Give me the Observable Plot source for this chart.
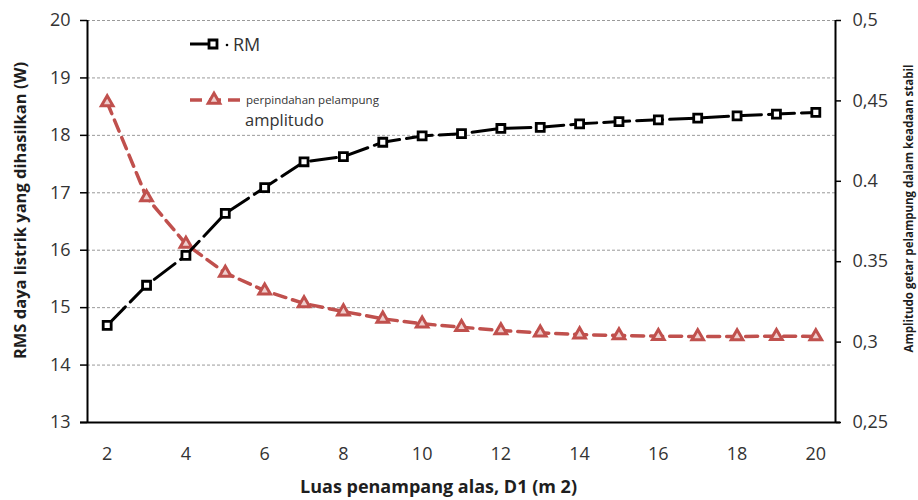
<!DOCTYPE html>
<html><head><meta charset="utf-8">
<script src="https://cdn.jsdelivr.net/npm/d3@7"></script>
<script src="https://cdn.jsdelivr.net/npm/@observablehq/plot@0.6"></script>
<style>
body{margin:0;background:#fff;}
#wrap{position:relative;width:918px;height:500px;font-family:"Open Sans",sans-serif;}
#legend{position:absolute;left:0;top:0;pointer-events:none;}
</style>
</head><body><div id="wrap"></div>
<script>
// ---- data ----
const X = [2,3,4,5,6,7,8,9,10,11,12,13,14,15,16,17,18,19,20];
const RM = [14.69,15.39,15.91,16.64,17.09,17.54,17.63,17.88,17.99,18.03,18.12,18.14,18.20,18.24,18.27,18.30,18.34,18.37,18.40];
const AMP = [0.449,0.390,0.361,0.343,0.332,0.324,0.319,0.3145,0.3114,0.3093,0.3072,0.3058,0.3047,0.3041,0.3037,0.3035,0.3035,0.3037,0.3035];
const xTicks = [2,4,6,8,10,12,14,16,18,20];
const leftTicks = [13,14,15,16,17,18,19,20];
const rightTicks = [0.25,0.3,0.35,0.4,0.45,0.5];
const rightTickLabels = ["0,25","0,3","0.35","0.4","0,45","0,5"];
const leftDomain = [13,20];
const rightDomain = [0.25,0.5];
const seriesNames = ["RM","perpindahan pelampung","amplitudo"];
const titles = {
  y: "RMS daya listrik yang dihasilkan (W)",
  y2: "Amplitudo getar pelampung dalam keadaan stabil",
  x: "Luas penampang alas, D1 (m 2)"
};
const RED = "#c0504d";
const RED_FILL = "#efcfce";
const TXT = "#333";

// map right-axis values onto the left scale
const toLeft = v => leftDomain[0] + (v - rightDomain[0]) / (rightDomain[1]-rightDomain[0]) * (leftDomain[1]-leftDomain[0]);
const rmData = X.map((x,i)=>({x, y:RM[i]}));
const ampData = X.map((x,i)=>({x, y:toLeft(AMP[i]), v:AMP[i]}));
const rightLabelFor = d => {
  const i = rightTicks.findIndex(v => Math.abs(toLeft(v)-d) < 1e-6);
  return i >= 0 ? rightTickLabels[i] : "";
};

const chart = Plot.plot({
  width: 918, height: 500,
  marginLeft: 87, marginRight: 83, marginTop: 20, marginBottom: 78,
  x: {domain: [1.5, 20.5]},
  y: {domain: leftDomain},
  style: {fontFamily: '"Open Sans", sans-serif', color: TXT, background: "#fff"},
  marks: [
    Plot.gridY(leftTicks.slice(1), {stroke: "#9a9a9a", strokeOpacity: 1, strokeWidth: 1, strokeDasharray: "3,2"}),
    Plot.axisY(leftTicks, {anchor: "left", tickSize: 7, tickPadding: 10, fontSize: 18, label: null, tickFormat: d => String(d), stroke: "#000", strokeWidth: 1.5, fill: TXT}),
    Plot.axisY(rightTicks.map(toLeft), {anchor: "right", tickSize: 5, tickPadding: 12, fontSize: 18, label: null, tickFormat: rightLabelFor, stroke: "#000", strokeWidth: 1.5, fill: TXT}),
    Plot.axisX(xTicks, {anchor: "bottom", tickSize: 0, tickPadding: 25, fontSize: 18, label: null, tickFormat: d => String(d), fill: TXT}),
    Plot.ruleX([1.5], {stroke: "#000", strokeWidth: 2}),
    Plot.ruleX([20.5], {stroke: "#000", strokeWidth: 2}),
    Plot.ruleY([13], {stroke: "#000", strokeWidth: 2, insetLeft: -7, insetRight: -5}),
    // red series
    Plot.line(ampData, {x: "x", y: "y", stroke: RED, strokeWidth: 3.5, strokeDasharray: "12,7"}),
    Plot.dot(ampData, {x: "x", y: "y", symbol: "triangle", r: 4.3, fill: RED_FILL, stroke: RED, strokeWidth: 3}),
    // black series
    Plot.line(rmData, {x: "x", y: "y", stroke: "#000", strokeWidth: 3, strokeDasharray: "26,7"}),
    Plot.dot(rmData, {x: "x", y: "y", symbol: "square", r: 4.5, fill: "#fff", stroke: "#000", strokeWidth: 2.8}),
    // axis titles
    Plot.text([titles.y], {frameAnchor: "left", textAnchor: "middle", lineAnchor: "middle", rotate: -90, dx: -67, dy: -11, fontSize: 16.5, fontWeight: "bold", fill: "#1e1e1e"}),
    Plot.text([titles.y2], {frameAnchor: "right", textAnchor: "middle", lineAnchor: "middle", rotate: -90, dx: 74, dy: -13, fontSize: 11.5, fontWeight: "bold", fill: "#1e1e1e"}),
    Plot.text([titles.x], {frameAnchor: "bottom", textAnchor: "middle", lineAnchor: "middle", dy: 65, dx: -23, fontSize: 18, fontWeight: "bold", fill: "#1e1e1e"})
  ]
});
document.getElementById("wrap").appendChild(chart);

// ---- legend overlay ----
const lg = d3.select("#wrap").append("svg").attr("id","legend").attr("width",918).attr("height",500)
  .style("font-family",'"Open Sans", sans-serif');
// RM item
lg.append("line").attr("x1",190).attr("x2",214).attr("y1",44).attr("y2",44).attr("stroke","#000").attr("stroke-width",3);
lg.append("path").attr("d",d3.symbol(d3.symbolSquare, Math.PI*4.5*4.5)()).attr("transform","translate(213,44)")
  .attr("fill","#fff").attr("stroke","#000").attr("stroke-width",2.8);
lg.append("circle").attr("cx",227).attr("cy",45).attr("r",1.3).attr("fill","#000");
lg.append("text").attr("x",233).attr("y",51).attr("font-size",18).attr("fill",TXT).text(seriesNames[0]);
// red item
lg.append("line").attr("x1",190).attr("x2",240).attr("y1",100).attr("y2",100).attr("stroke",RED).attr("stroke-width",3.5).attr("stroke-dasharray","12,7");
lg.append("path").attr("d",d3.symbol(d3.symbolTriangle, Math.PI*4.3*4.3)()).attr("transform","translate(214,100)")
  .attr("fill",RED_FILL).attr("stroke",RED).attr("stroke-width",3);
lg.append("text").attr("x",246).attr("y",104).attr("font-size",11.5).attr("fill",TXT).text(seriesNames[1]);
lg.append("text").attr("x",245).attr("y",126).attr("font-size",16.5).attr("fill",TXT).text(seriesNames[2]);
</script></body></html>
